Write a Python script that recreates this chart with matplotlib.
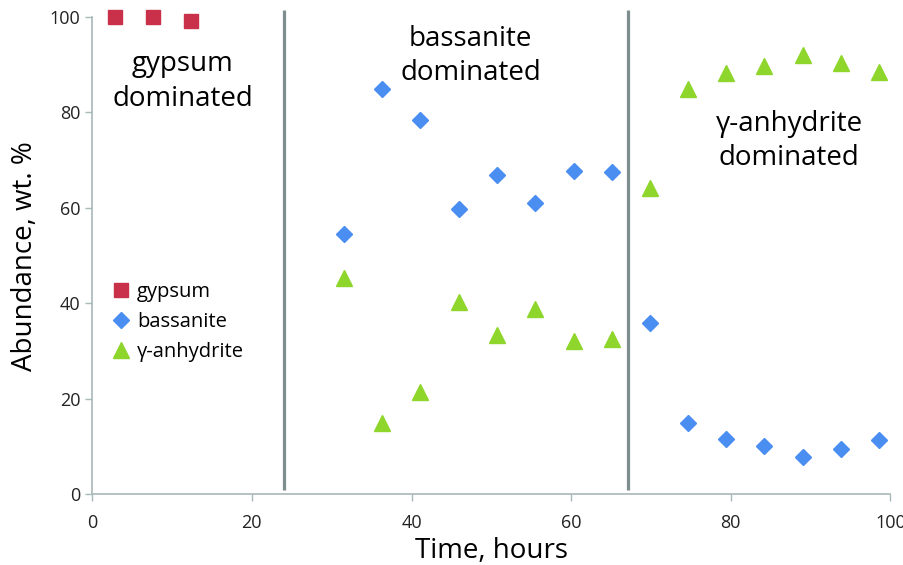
import matplotlib
matplotlib.use('Agg')
import matplotlib.pyplot as plt

plt.rcParams['font.family'] = ['Open Sans', 'DejaVu Sans']

# data
gyp_t = [2.8, 7.6, 12.4]
gyp_v = [100.0, 100.0, 99.1]

bas_t = [31.5, 36.3, 41.1, 45.9, 50.7, 55.5, 60.3, 65.1, 69.9,
         74.6, 79.4, 84.2, 89.0, 93.8, 98.6]
bas_v = [54.6, 84.9, 78.4, 59.7, 66.8, 61.1, 67.8, 67.5, 35.9,
         15.0, 11.6, 10.2, 7.9, 9.6, 11.4]

anh_t = bas_t
anh_v = [45.3, 15.0, 21.5, 40.2, 33.3, 38.8, 32.2, 32.5, 64.1,
         85.0, 88.3, 89.8, 92.0, 90.3, 88.5]

boundaries = [24.0, 67.1]
x_ticks = [0, 20, 40, 60, 80, 100]
y_ticks = [0, 20, 40, 60, 80, 100]

fig = plt.figure(figsize=(9.04, 5.65), dpi=100)
ax = fig.add_axes([0.102, 0.125, 0.883, 0.845])

ax.plot(gyp_t, gyp_v, 's', color='#C9304A', ms=10, ls='none',
        label='gypsum', clip_on=False, zorder=4)
ax.plot(bas_t, bas_v, 'D', color='#4A8EF2', ms=8.5, ls='none',
        label='bassanite', clip_on=False, zorder=4)
ax.plot(anh_t, anh_v, '^', color='#8ED62B', ms=11, ls='none',
        label='γ-anhydrite', clip_on=False, zorder=4)

ax.vlines(boundaries, 1, 101.5, colors='#7E8E8E', linewidth=2.3,
          clip_on=False, zorder=3)

ax.text(11.3, 86.5, 'gypsum\ndominated', ha='center', va='center',
        fontsize=20, linespacing=1.3)
ax.text(47.4, 91.8, 'bassanite\ndominated', ha='center', va='center',
        fontsize=20, linespacing=1.3)
ax.text(87.3, 74.0, 'γ-anhydrite\ndominated', ha='center', va='center',
        fontsize=20, linespacing=1.3)

ax.set_xlim(0, 100)
ax.set_ylim(0, 100)
ax.set_xticks(x_ticks)
ax.set_yticks(y_ticks)
ax.tick_params(colors='#A9B8B8', labelcolor='#222222', labelsize=13,
               length=5, width=1)
ax.tick_params(axis='x', pad=9)
for s in ['top', 'right']:
    ax.spines[s].set_visible(False)
for s in ['left', 'bottom']:
    ax.spines[s].set_color('#A9B8B8')
    ax.spines[s].set_linewidth(1.2)

ax.set_xlabel('Time, hours', fontsize=20, labelpad=4)
ax.set_ylabel('Abundance, wt. %', fontsize=20, labelpad=8)

ax.legend(loc='upper left', bbox_to_anchor=(-0.006, 0.483), frameon=False,
          fontsize=14.5, handletextpad=0.05, borderaxespad=0.5,
          labelspacing=0.5, handlelength=1.5)

fig.savefig('out.png', dpi=100, facecolor='white')
